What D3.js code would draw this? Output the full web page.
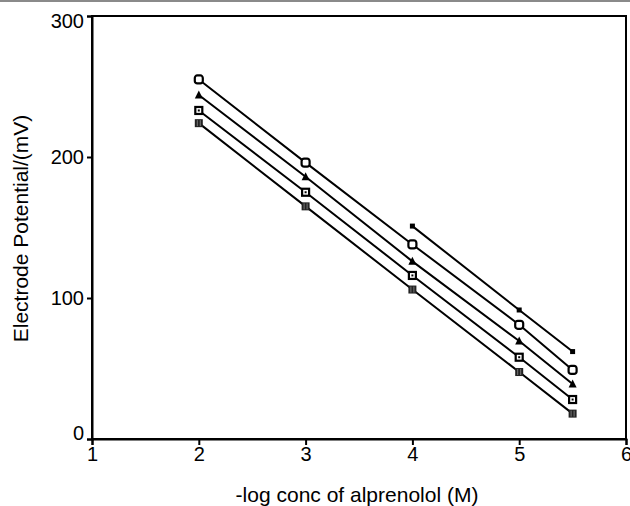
<!DOCTYPE html>
<html>
<head>
<meta charset="utf-8">
<script src="https://cdn.jsdelivr.net/npm/d3@7"></script>
<style>
  body { margin: 0; background: #fff; }
  svg { display: block; font-family: "Liberation Sans", Arial, sans-serif; }
</style>
</head>
<body>
<svg id="chart" width="630" height="506"></svg>
<script>
// data
var xTicks = [1, 2, 3, 4, 5, 6];
var yTicks = [0, 100, 200, 300];

var xFull = [2, 3, 4, 5, 5.5];
var xShort = [4, 5, 5.5];

var seriesCircle = [255, 196, 138, 81, 49];
var seriesSmall = [151, 91.5, 62];
var seriesTriangle = [244, 186, 126, 69.5, 39];
var seriesDot = [233, 175, 116, 58, 28];
var seriesHatch = [224, 165, 106, 47.5, 18];

var svg = d3.select("#chart");
var margin = { left: 92, right: 4, top: 16, bottom: 67 };
var W = 630, H = 506;

var x = d3.scaleLinear().domain([1, 6]).range([margin.left, W - margin.right]);
var y = d3.scaleLinear().domain([0, 300]).range([H - margin.bottom, margin.top]);

/* thin grey rule along the top edge */
svg.append("rect").attr("x", 0).attr("y", 0).attr("width", W).attr("height", 2).attr("fill", "#8a8a8a");

/* plot frame */
svg.append("rect")
  .attr("x", x(1)).attr("y", y(300))
  .attr("width", x(6) - x(1)).attr("height", y(0) - y(300))
  .attr("fill", "none").attr("stroke", "#000").attr("stroke-width", 2);

/* axes */
var xAxis = svg.append("g")
  .attr("transform", "translate(0," + y(0) + ")")
  .call(d3.axisBottom(x).tickValues(xTicks).tickSize(6).tickFormat(d3.format("d")));
var yAxis = svg.append("g")
  .attr("transform", "translate(" + x(1) + ",0)")
  .call(d3.axisLeft(y).tickValues(yTicks).tickSize(5).tickPadding(3).tickFormat(d3.format("d")));

[xAxis, yAxis].forEach(function (g) {
  g.attr("font-size", 20).attr("font-family", "'Liberation Sans', Arial, sans-serif");
  g.select(".domain").attr("stroke-width", 2);
  g.selectAll(".tick line").attr("stroke-width", 2);
  g.selectAll(".tick text").attr("fill", "#000");
});

xAxis.selectAll(".tick text").attr("dy", null).attr("y", 22);
/* the end labels sit nudged inwards, like the original */
yAxis.selectAll(".tick text").attr("y", function (d) { return d === 300 ? 5 : d === 0 ? -6 : 0; });

/* axis titles */
svg.append("text")
  .attr("x", (x(1) + x(6)) / 2 - 2).attr("y", 502)
  .attr("text-anchor", "middle").attr("font-size", 21)
  .text("-log conc of alprenolol (M)");
svg.append("text")
  .attr("transform", "translate(28," + (y(150) + 1) + ") rotate(-90)")
  .attr("text-anchor", "middle").attr("font-size", 21)
  .text("Electrode Potential/(mV)");

/* lines and markers */
var line = d3.line().x(function (d) { return x(d[0]); }).y(function (d) { return y(d[1]); });

function pairs(xs, ys) {
  return xs.map(function (v, i) { return [v, ys[i]]; });
}

var series = [
  { pts: pairs(xFull, seriesCircle), kind: "circle" },
  { pts: pairs(xShort, seriesSmall), kind: "small" },
  { pts: pairs(xFull, seriesTriangle), kind: "triangle" },
  { pts: pairs(xFull, seriesDot), kind: "dot" },
  { pts: pairs(xFull, seriesHatch), kind: "hatch" }
];

series.forEach(function (s) {
  svg.append("path").datum(s.pts).attr("d", line)
    .attr("fill", "none").attr("stroke", "#000").attr("stroke-width", 2);
});

series.forEach(function (s) {
  var g = svg.append("g").selectAll("g").data(s.pts).enter().append("g")
    .attr("transform", function (d) { return "translate(" + x(d[0]) + "," + y(d[1]) + ")"; });

  if (s.kind === "circle") {
    g.append("rect").attr("x", -4).attr("y", -4).attr("width", 8).attr("height", 8).attr("rx", 2.5)
      .attr("fill", "#fff").attr("stroke", "#000").attr("stroke-width", 2.2);
  } else if (s.kind === "small") {
    g.append("rect").attr("x", -2.5).attr("y", -2.5).attr("width", 5).attr("height", 5).attr("fill", "#000");
  } else if (s.kind === "triangle") {
    g.append("path").attr("d", "M0,-4.5L4,3.5L-4,3.5Z").attr("fill", "#000");
  } else if (s.kind === "dot") {
    g.append("rect").attr("x", -3.5).attr("y", -3.5).attr("width", 7).attr("height", 7)
      .attr("fill", "#fff").attr("stroke", "#000").attr("stroke-width", 2.2);
    g.append("rect").attr("x", -1).attr("y", -1).attr("width", 2).attr("height", 2).attr("fill", "#000");
  } else {
    g.append("rect").attr("x", -4).attr("y", -4).attr("width", 8).attr("height", 8).attr("fill", "#222");
    g.append("path").attr("d", "M-1.5,-3V3M1.5,-3V3").attr("stroke", "#777").attr("stroke-width", 1);
  }
});
</script>
</body>
</html>
